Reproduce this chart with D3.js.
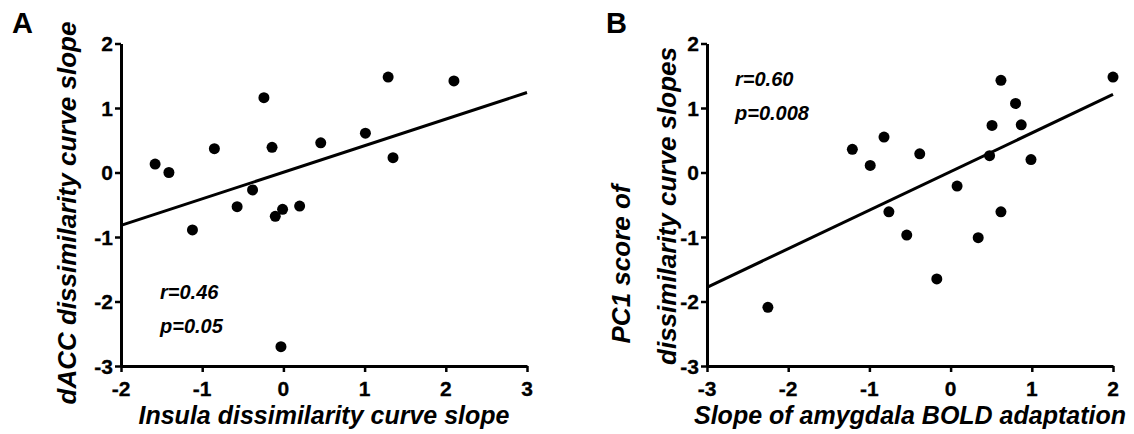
<html>
<head>
<meta charset="utf-8">
<script src="https://d3js.org/d3.v7.min.js"></script>
<style>
  body { margin: 0; background: #fff; }
  text { font-family: "Liberation Sans", Arial, sans-serif; fill: #000; }
</style>
</head>
<body>
<svg width="1134" height="434"></svg>
<script>
// panel A: insula vs dACC dissimilarity curve slopes
var insulaSlope = [-1.58, -1.41, -1.12, -0.85, -0.57, -0.38, -0.24, -0.14, -0.10, -0.01, 0.20, -0.03, 0.46, 1.01, 1.29, 1.35, 2.10];
var daccSlope   = [0.13, 0.00, -0.89, 0.37, -0.53, -0.27, 1.16, 0.39, -0.68, -0.57, -0.52, -2.70, 0.46, 0.61, 1.48, 0.23, 1.42];
var fitAx = [-2, 3];
var fitAy = [-0.82, 1.24];
var statsA = ["r=0.46", "p=0.05"];
var xTicksA = [-2, -1, 0, 1, 2, 3];

// panel B: amygdala BOLD adaptation vs PC1 score
var amygSlope = [-2.25, -1.21, -0.99, -0.82, -0.76, -0.54, -0.38, -0.17, 0.08, 0.34, 0.48, 0.51, 0.62, 0.62, 0.80, 0.87, 0.99, 2.00];
var pc1Score  = [-2.09, 0.36, 0.11, 0.55, -0.61, -0.97, 0.29, -1.65, -0.21, -1.01, 0.26, 0.73, 1.43, -0.61, 1.07, 0.74, 0.20, 1.48];
var fitBx = [-3, 2];
var fitBy = [-1.78, 1.21];
var statsB = ["r=0.60", "p=0.008"];
var xTicksB = [-3, -2, -1, 0, 1, 2];

var yTicks = [-3, -2, -1, 0, 1, 2];

var svg = d3.select("svg");
var minus = function(d) { return d < 0 ? "-" + Math.abs(d) : "" + d; };

function panel(opt) {
	var x = d3.scaleLinear().domain(d3.extent(opt.xTicks)).range([opt.left, opt.left + 406]);
	var y = d3.scaleLinear().domain([-3, 2]).range([366, 43.5]);
	var g = svg.append("g");

	var xa = g.append("g").attr("transform", "translate(0,366)")
		.call(d3.axisBottom(x).tickValues(opt.xTicks).tickSize(6).tickSizeOuter(0).tickFormat(""));
	var ya = g.append("g").attr("transform", "translate(" + opt.left + ",0)")
		.call(d3.axisLeft(y).tickValues(yTicks).tickSize(6).tickSizeOuter(0).tickFormat(""));
	[xa, ya].forEach(function(a) {
		a.select(".domain").attr("stroke", "#000").attr("stroke-width", 3);
		a.selectAll(".tick line").attr("stroke", "#000").attr("stroke-width", 2.5);
	});

	// tick labels
	g.selectAll(".xl").data(opt.xTicks).enter().append("text")
		.attr("x", function(d) { return x(d); }).attr("y", 396)
		.attr("text-anchor", "middle")
		.style("font-size", "21px").style("font-weight", "bold")
		.style("stroke", "#000").style("stroke-width", 0.3)
		.text(minus);
	g.selectAll(".yl").data(yTicks).enter().append("text")
		.attr("x", opt.left - 8).attr("y", function(d) { return y(d) + 7.5; })
		.attr("text-anchor", "end")
		.style("font-size", "21px").style("font-weight", "bold")
		.style("stroke", "#000").style("stroke-width", 0.3)
		.text(minus);

	var fit = opt.fitX.map(function(v, i) { return [v, opt.fitY[i]]; });
	g.append("path").datum(fit)
		.attr("d", d3.line().x(function(d) { return x(d[0]); }).y(function(d) { return y(d[1]); }))
		.attr("fill", "none").attr("stroke", "#000").attr("stroke-width", 3);

	g.selectAll("circle").data(opt.xs).enter().append("circle")
		.attr("cx", function(d) { return x(d); })
		.attr("cy", function(d, i) { return y(opt.ys[i]); })
		.attr("r", 5.5).attr("fill", "#000");

	g.selectAll(".stat").data(opt.stats).enter().append("text")
		.attr("x", opt.statX).attr("y", function(d, i) { return opt.statY + i * 34; })
		.style("font-size", "20px").style("font-weight", "bold").style("font-style", "italic")
		.text(function(d) { return d; });

	g.append("text").attr("x", opt.left + 203).attr("y", 424).attr("text-anchor", "middle")
		.style("font-size", "25px").style("font-weight", "bold").style("font-style", "italic")
		.text(opt.xLabel);

	opt.yLabel.forEach(function(t, i) {
		g.append("text").attr("transform", "translate(" + opt.yLabelX[i] + "," + opt.yLabelY[i] + ") rotate(-90)")
			.attr("text-anchor", "middle")
			.style("font-size", "26px").style("font-weight", "bold").style("font-style", "italic")
			.text(t);
	});

	g.append("text").attr("x", opt.letterX).attr("y", 33)
		.style("font-size", "29px").style("font-weight", "bold").text(opt.letter);
}

panel({left: 121, xTicks: xTicksA, xs: insulaSlope, ys: daccSlope, fitX: fitAx, fitY: fitAy,
	stats: statsA, statX: 160, statY: 299,
	xLabel: "Insula dissimilarity curve slope",
	yLabel: ["dACC dissimilarity curve slope"], yLabelX: [76], yLabelY: [213],
	letter: "A", letterX: 12});

panel({left: 707, xTicks: xTicksB, xs: amygSlope, ys: pc1Score, fitX: fitBx, fitY: fitBy,
	stats: statsB, statX: 735, statY: 86,
	xLabel: "Slope of amygdala BOLD adaptation",
	yLabel: ["PC1 score of", "dissimilarity curve slopes"], yLabelX: [630, 676], yLabelY: [264, 206],
	letter: "B", letterX: 606});
</script>
</body>
</html>
